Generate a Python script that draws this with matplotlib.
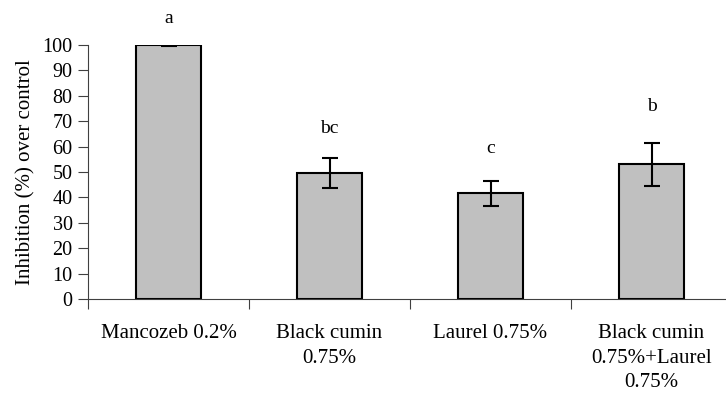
import numpy as np
import matplotlib.pyplot as plt

# data
treatments = ['Mancozeb 0.2%', 'Black cumin\n0.75%', 'Laurel 0.75%',
              'Black cumin\n0.75%+Laurel\n0.75%']
inhibition = [100.0, 49.7, 41.6, 53.0]
err = [0.3, 5.9, 4.9, 8.6]
letters = ['a', 'bc', 'c', 'b']
letter_y = [110.6, 67.3, 59.4, 75.6]

plt.rcParams['font.family'] = 'Liberation Serif'
plt.rcParams['font.size'] = 14.5

fig = plt.figure(figsize=(7.26, 3.96), dpi=100)
ax = fig.add_axes([88/726, 1 - 299/396, 644/726, 254/396])

x = np.arange(len(treatments))
ax.bar(x, inhibition, width=0.4, color='#c0c0c0', edgecolor='black', linewidth=1.5,
       yerr=err, capsize=5.5, error_kw=dict(elinewidth=1.5, capthick=1.5, ecolor='black'))

# significance letters
for i in range(len(x)):
    ax.text(x[i], letter_y[i], letters[i], ha='center', va='center', fontsize=14)

ax.set_xlim(-0.5, len(x) - 0.5)
ax.set_ylim(0, 100)
ax.set_yticks(np.arange(0, 101, 10))
ax.set_xticks(x)
ax.set_xticklabels(treatments, linespacing=1.4, fontsize=15)
ax.tick_params(axis='x', length=0, pad=18)
ax.set_xticks(np.arange(-0.5, len(x) - 0.4, 1), minor=True)
ax.tick_params(axis='x', which='minor', length=7, width=0.8, direction='out', color='#404040')
ax.tick_params(axis='y', length=7, width=0.8, direction='out', color='#404040', pad=4)

for s in ['top', 'right']:
    ax.spines[s].set_visible(False)
for s in ['left', 'bottom']:
    ax.spines[s].set_linewidth(0.8)
    ax.spines[s].set_color('#404040')

ax.set_ylabel('Inhibition (%) over control', labelpad=5, fontsize=15)

plt.savefig('out.png', dpi=100)
